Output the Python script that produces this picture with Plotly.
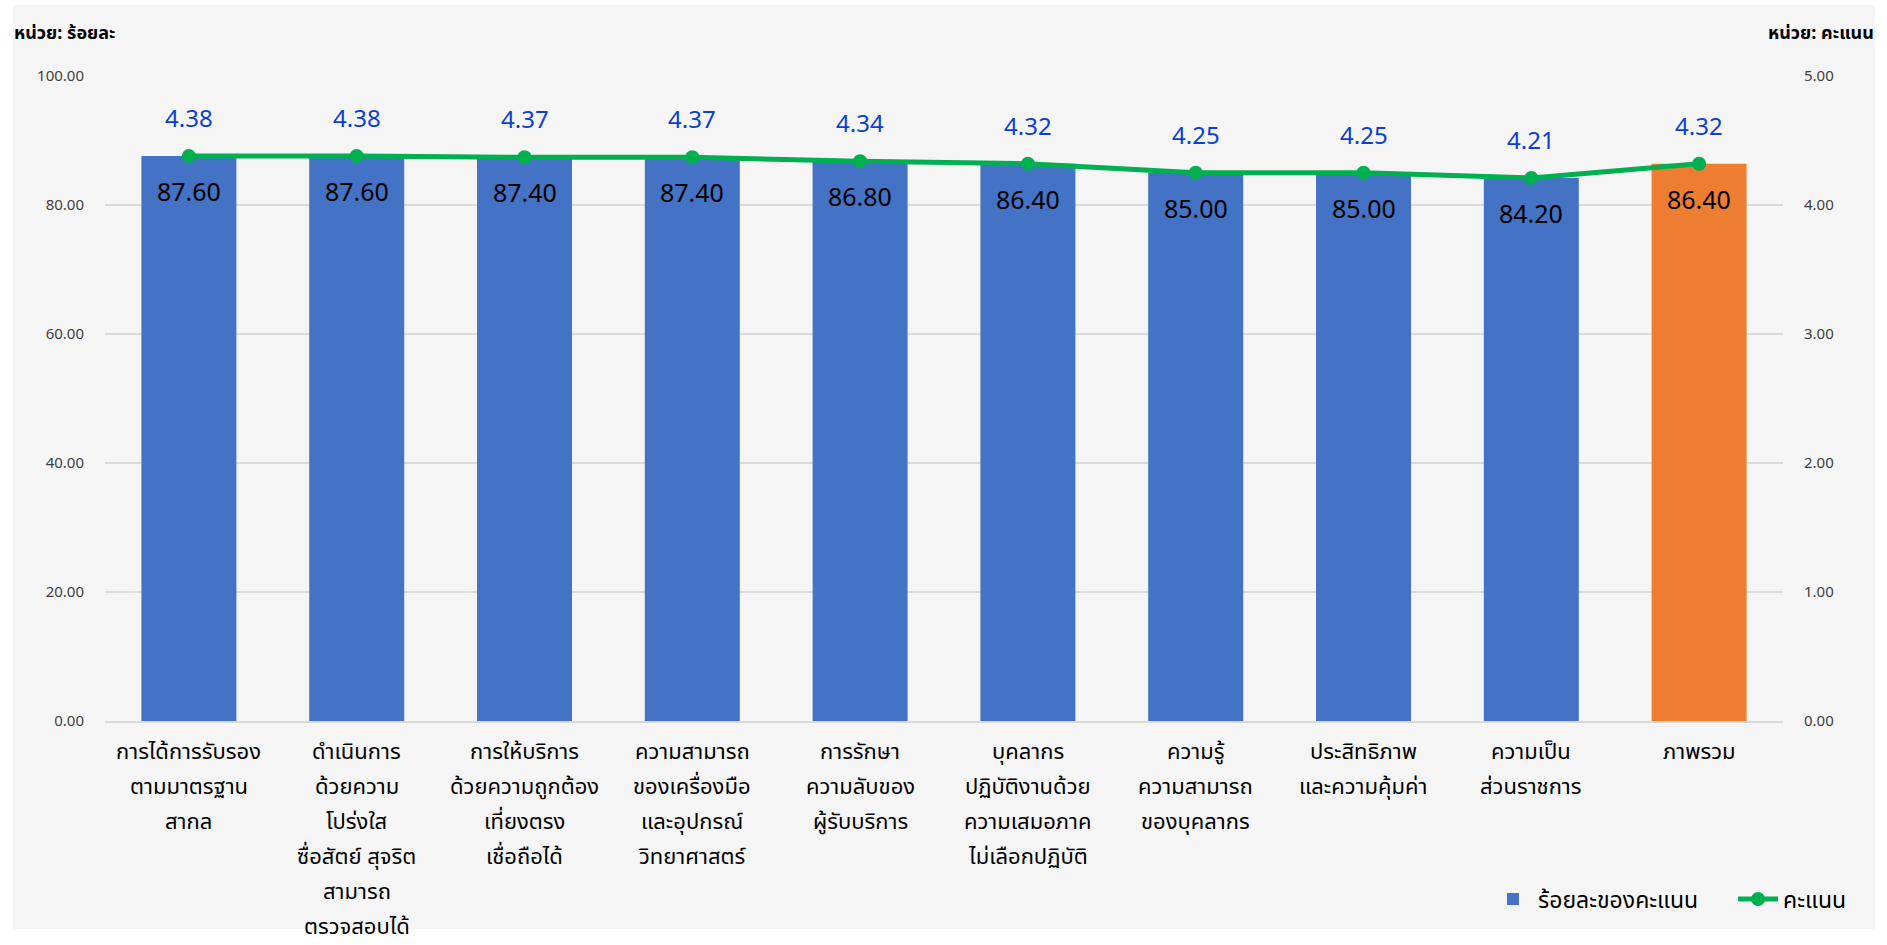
import plotly.graph_objects as go

categories = [
    "การได้การรับรอง<br>ตามมาตรฐาน<br>สากล",
    "ดำเนินการ<br>ด้วยความ<br>โปร่งใส<br>ซื่อสัตย์ สุจริต<br>สามารถ<br>ตรวจสอบได้",
    "การให้บริการ<br>ด้วยความถูกต้อง<br>เที่ยงตรง<br>เชื่อถือได้",
    "ความสามารถ<br>ของเครื่องมือ<br>และอุปกรณ์<br>วิทยาศาสตร์",
    "การรักษา<br>ความลับของ<br>ผู้รับบริการ",
    "บุคลากร<br>ปฏิบัติงานด้วย<br>ความเสมอภาค<br>ไม่เลือกปฏิบัติ",
    "ความรู้<br>ความสามารถ<br>ของบุคลากร",
    "ประสิทธิภาพ<br>และความคุ้มค่า",
    "ความเป็น<br>ส่วนราชการ",
    "ภาพรวม",
]
percent_values = [87.60, 87.60, 87.40, 87.40, 86.80, 86.40, 85.00, 85.00, 84.20, 86.40]
score_values = [4.38, 4.38, 4.37, 4.37, 4.34, 4.32, 4.25, 4.25, 4.21, 4.32]
bar_colors = ["#4472C4"] * 9 + ["#ED7D31"]

FONT = "Tahoma, 'Noto Sans Thai', 'Noto Sans', sans-serif"

W, H = 1887, 945
L, R, T, B = 105, 104, 76, 224
pw, ph = W - L - R, H - T - B

def px_x(p):
    return (p - L) / pw

def px_y(p):
    return (H - B - p) / ph

fig = go.Figure()
fig.add_trace(go.Bar(
    x=categories, y=percent_values,
    name="ร้อยละของคะแนน" + "\u00a0" * 5,
    marker=dict(color=bar_colors, line=dict(width=0)),
    yaxis="y",
))
fig.add_trace(go.Scatter(
    x=categories, y=score_values, name="คะแนน",
    mode="lines+markers",
    line=dict(color="#00B050", width=5),
    marker=dict(color="#00B050", size=14),
    yaxis="y2",
))

annotations = []
for c, v in zip(categories, percent_values):
    annotations.append(dict(
        x=c, y=v, xref="x", yref="y", text=f"{v:.2f}", showarrow=False,
        yshift=-37, font=dict(size=25, color="#000000", family=FONT),
    ))
for c, v in zip(categories, score_values):
    annotations.append(dict(
        x=c, y=v, xref="x", yref="y2", text=f"{v:.2f}", showarrow=False,
        yshift=36, font=dict(size=24, color="#0B3FD4", family=FONT),
    ))
# category labels, one line per annotation for Excel-like line spacing
for c in categories:
    for i, line in enumerate(c.split("<br>")):
        annotations.append(dict(
            x=c, y=0, xref="x", yref="paper", text=line, showarrow=False,
            xanchor="center", yanchor="middle", yshift=-(31 + 35 * i),
            font=dict(size=22, color="#000000", family=FONT),
        ))
annotations.append(dict(
    x=px_x(12), y=px_y(34), xref="paper", yref="paper", xanchor="left",
    yanchor="middle", text="<b>หน่วย: ร้อยละ</b>", showarrow=False,
    font=dict(size=18, color="#000000", family=FONT),
))
annotations.append(dict(
    x=px_x(1876), y=px_y(34), xref="paper", yref="paper", xanchor="right",
    yanchor="middle", text="<b>หน่วย: คะแนน</b>", showarrow=False,
    font=dict(size=18, color="#000000", family=FONT),
))

fig.update_layout(
    width=W, height=H,
    margin=dict(l=L, r=R, t=T, b=B, autoexpand=False),
    paper_bgcolor="#FFFFFF",
    plot_bgcolor="rgba(0,0,0,0)",
    font=dict(family=FONT, color="#000000"),
    bargap=0.434,
    showlegend=True,
    legend=dict(
        orientation="h", x=px_x(1852), xanchor="right",
        y=px_y(899), yanchor="middle",
        font=dict(size=23, color="#000000", family=FONT),
        bgcolor="rgba(0,0,0,0)", itemwidth=40,
    ),
    xaxis=dict(
        range=[-0.5, len(categories) - 0.5],
        showticklabels=False,
        showline=True, linecolor="#D9D9D9", linewidth=2,
        ticks="", showgrid=False, fixedrange=True,
    ),
    yaxis=dict(
        range=[0, 100], dtick=20, tickformat=".2f",
        tickfont=dict(size=15, color="#404040", family=FONT),
        gridcolor="#D9D9D9", gridwidth=1.5, zeroline=False,
        ticklabelstandoff=20, fixedrange=True,
    ),
    yaxis2=dict(
        range=[0, 5], dtick=1, tickformat=".2f", overlaying="y", side="right",
        tickfont=dict(size=15, color="#404040", family=FONT),
        showgrid=False, zeroline=False, ticklabelstandoff=20,
    ),
    annotations=annotations,
    shapes=[dict(
        type="rect", xref="paper", yref="paper",
        x0=px_x(13), x1=px_x(1875), y0=px_y(929), y1=px_y(5),
        fillcolor="#F5F5F5", line=dict(width=0), layer="below",
    )],
)

fig.write_html("out.html")
